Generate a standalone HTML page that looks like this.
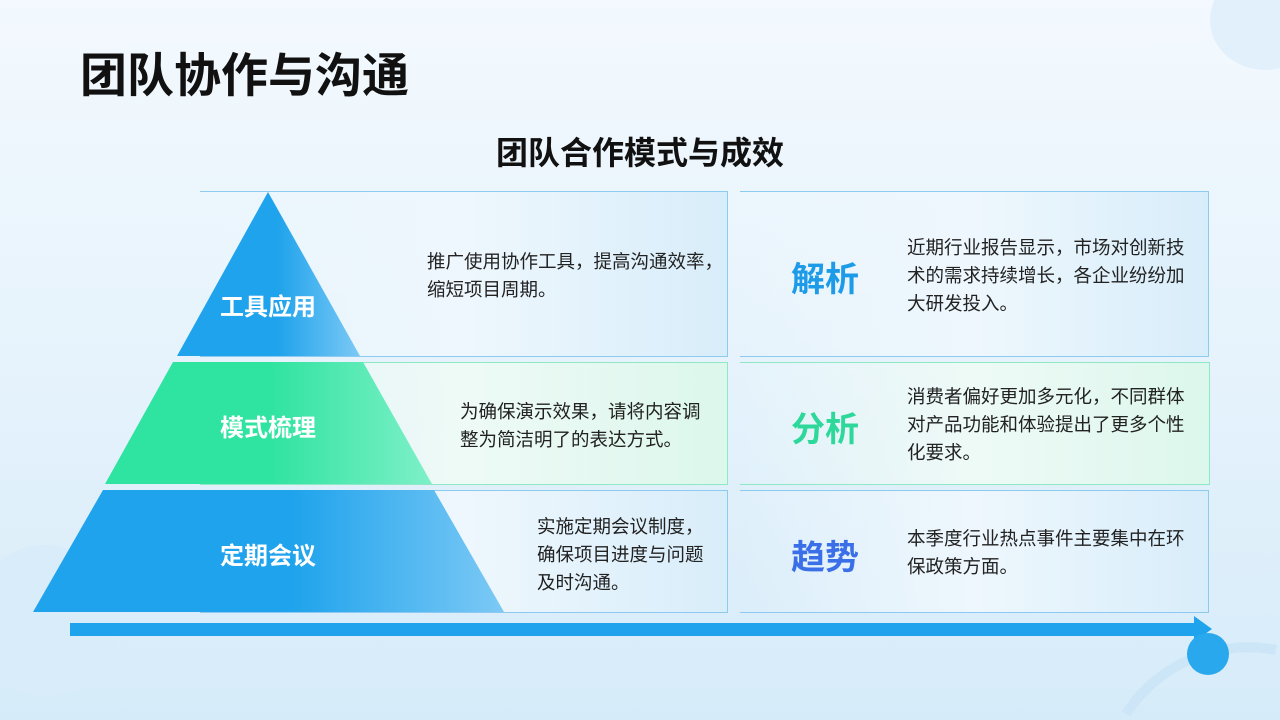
<!DOCTYPE html>
<html style="width:1280px;height:720px;overflow:hidden"><head><meta charset="utf-8"><style>
*{margin:0;padding:0;box-sizing:border-box}
html,body{width:1280px;height:720px;overflow:hidden}
body{position:relative;font-family:"Liberation Sans","Noto Sans CJK SC",sans-serif;background:linear-gradient(180deg,#f3f9fe 0%,#e6f3fc 50%,#d6ebf9 100%)}
.a{position:absolute}
.t{font-weight:bold;color:#111}
.box{position:absolute;border:1.5px solid #8ccaf0;border-left:none}
.txt{position:absolute;font-size:18.5px;line-height:28px;color:#222;white-space:nowrap}
.lab{position:absolute;font-size:34px;font-weight:bold}
.pl{position:absolute;color:#fff;font-size:24px;font-weight:bold;text-align:center;width:200px}
</style></head><body>
<svg class="a" style="left:0;top:0" width="1280" height="720">
<ellipse cx="1265" cy="20" rx="55" ry="50" fill="#e2f0fb"/>
<circle cx="45" cy="620" r="75" fill="#d9ecf9"/>
<path d="M1126,714 A145,145 0 0 1 1276,650" fill="none" stroke="#cce6f8" stroke-width="10"/>
</svg>
<div class="a t" style="left:80px;top:46px;font-size:47px;line-height:60px">团队协作与沟通</div>
<div class="a t" style="left:0;width:1280px;text-align:center;top:133px;font-size:32px;line-height:40px">团队合作模式与成效</div>

<div class="box" style="left:200px;top:191px;width:528px;height:166px;background:linear-gradient(90deg,rgba(255,255,255,0) 0%,#eef7fd 50%,#d8edfa 100%)"></div>
<div class="box" style="left:200px;top:362px;width:528px;height:123px;border-color:#8ee8c4;background:linear-gradient(90deg,rgba(255,255,255,0) 0%,#eefaf6 50%,#dcf7ec 100%)"></div>
<div class="box" style="left:200px;top:490px;width:528px;height:123px;background:linear-gradient(90deg,rgba(255,255,255,0) 0%,#eef7fd 50%,#d8edfa 100%)"></div>
<div class="box" style="left:740px;top:191px;width:469px;height:166px;background:linear-gradient(90deg,rgba(255,255,255,0) 0%,#eef7fd 50%,#d8edfa 100%)"></div>
<div class="box" style="left:740px;top:362px;width:470px;height:123px;border-color:#8ee8c4;background:linear-gradient(90deg,rgba(255,255,255,0) 0%,#eefaf6 50%,#dcf7ec 100%)"></div>
<div class="box" style="left:740px;top:490px;width:469px;height:123px;background:linear-gradient(90deg,rgba(255,255,255,0) 0%,#eef7fd 50%,#d8edfa 100%)"></div>

<svg class="a" style="left:0;top:0" width="1280" height="720">
<defs>
<linearGradient id="b" x1="0" x2="1"><stop offset="0.55" stop-color="#1fa3ec"/><stop offset="1" stop-color="#7cc9f5"/></linearGradient>
<linearGradient id="g" x1="0" x2="1"><stop offset="0.5" stop-color="#2fe3a0"/><stop offset="1" stop-color="#7ef0c8"/></linearGradient>
</defs>
<polygon points="268,192 360,356 177,356" fill="url(#b)"/>
<polygon points="173,362 363,362 432,484 105,484" fill="url(#g)"/>
<polygon points="103,490 434,490 504,612 33,612" fill="url(#b)"/>
<rect x="70" y="623" width="1128" height="13" fill="#1ea3ec"/>
<polygon points="1194,616 1212,629 1194,642" fill="#1ea3ec"/>
<circle cx="1208" cy="654" r="21" fill="#2aa8ee"/>
</svg>

<div class="pl" style="left:168px;top:287px">工具应用</div>
<div class="pl" style="left:168px;top:408px">模式梳理</div>
<div class="pl" style="left:168px;top:536px">定期会议</div>

<div class="txt" style="left:427px;top:248px">推广使用协作工具，提高沟通效率，<br>缩短项目周期。</div>
<div class="txt" style="left:460px;top:398px">为确保演示效果，请将内容调<br>整为简洁明了的表达方式。</div>
<div class="txt" style="left:537px;top:513px">实施定期会议制度，<br>确保项目进度与问题<br>及时沟通。</div>

<div class="lab" style="left:791px;top:252px;color:#1e9be8">解析</div>
<div class="lab" style="left:791px;top:402px;color:#2ed89a">分析</div>
<div class="lab" style="left:791px;top:530px;color:#3b6fe8">趋势</div>

<div class="txt" style="left:907px;top:234px">近期行业报告显示，市场对创新技<br>术的需求持续增长，各企业纷纷加<br>大研发投入。</div>
<div class="txt" style="left:907px;top:383px">消费者偏好更加多元化，不同群体<br>对产品功能和体验提出了更多个性<br>化要求。</div>
<div class="txt" style="left:907px;top:525px">本季度行业热点事件主要集中在环<br>保政策方面。</div>
</body></html>
